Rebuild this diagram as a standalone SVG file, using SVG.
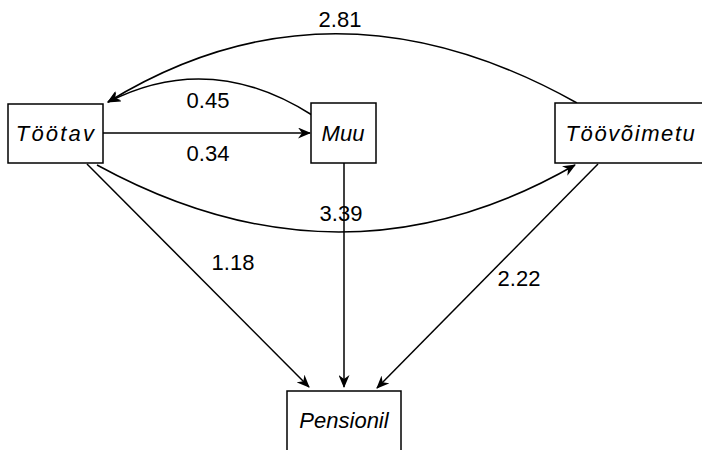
<svg xmlns="http://www.w3.org/2000/svg" width="702" height="450" viewBox="0 0 702 450">
<style>
.box{fill:#fff;stroke:#000;stroke-width:1.5}
.lbl{font-family:"Liberation Sans",Arial,sans-serif;font-size:22px;fill:#000;text-anchor:middle}
.nm{font-family:"Liberation Sans",Arial,sans-serif;font-size:22px;font-style:italic;fill:#000;text-anchor:middle}
.e{fill:none;stroke:#000;stroke-width:1.5;marker-end:url(#ah)}
</style>
<defs>
<marker id="ah" viewBox="0 0 13 11" refX="12" refY="5.5" markerWidth="13" markerHeight="11" markerUnits="userSpaceOnUse" orient="auto">
<path d="M0,0 L13,5.5 L0,11 L4,5.5 Z" fill="#000"/>
</marker>
</defs>
<rect width="702" height="450" fill="#fff"/>
<g id="connectors">
<path class="e" d="M577,103 Q331,-35 108,102"/>
<path class="e" d="M312,115 Q210,50 108,102"/>
<path class="e" d="M103,133 L310,133"/>
<path class="e" d="M97,165 Q342,299 575,165"/>
<path class="e" d="M87,164 L309,387"/>
<path class="e" d="M344,163 L344,387"/>
<path class="e" d="M598,164 L377,388"/>
</g>
<g id="labels">
<text class="lbl" x="340" y="27">2.81</text>
<text class="lbl" x="208" y="108">0.45</text>
<text class="lbl" x="208" y="161">0.34</text>
<text class="lbl" x="341" y="221">3.39</text>
<text class="lbl" x="233" y="270">1.18</text>
<text class="lbl" x="519" y="286">2.22</text>
</g>
<g id="node-tootav">
<rect class="box" x="8" y="104" width="95" height="59"/>
<text class="nm" x="56" y="141" letter-spacing="2.2">Töötav</text>
</g>
<g id="node-muu">
<rect class="box" x="311" y="103" width="65" height="60"/>
<text class="nm" x="343" y="141" font-size="23">Muu</text>
</g>
<g id="node-toovoimetu">
<rect class="box" x="555" y="103" width="150" height="60"/>
<text class="nm" x="631" y="141" letter-spacing="1.6">Töövõimetu</text>
</g>
<g id="node-pensionil">
<rect class="box" x="287" y="391" width="114" height="65"/>
<text class="nm" x="344" y="428" font-size="23">Pensionil</text>
</g>
</svg>
